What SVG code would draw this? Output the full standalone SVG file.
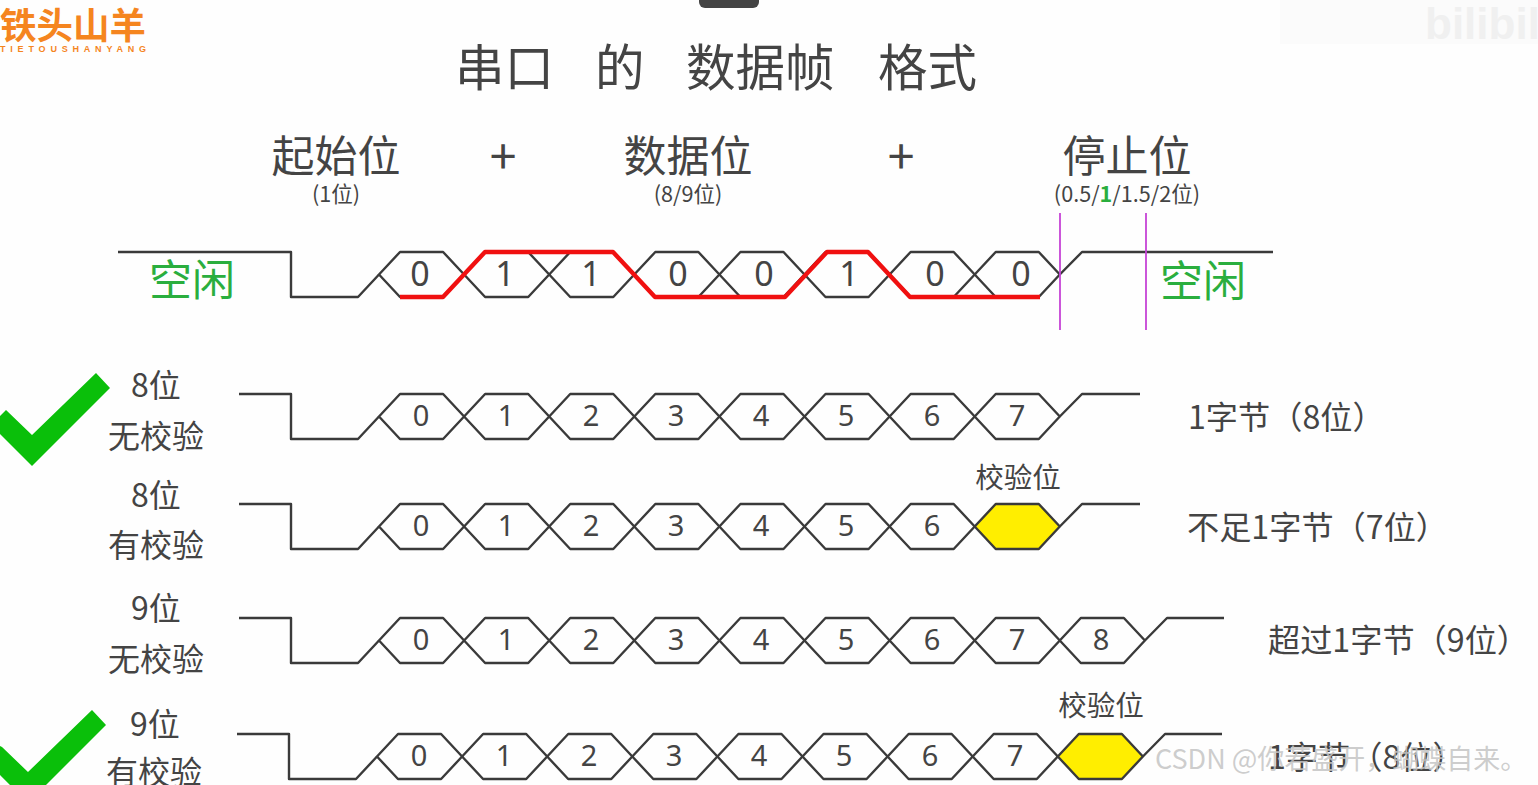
<svg xmlns="http://www.w3.org/2000/svg" width="1538" height="785" viewBox="0 0 1538 785">
<style>
text{font-family:"Noto Sans CJK SC","Noto Sans",sans-serif;fill:#444}
.m{text-anchor:middle}
.t{font-size:49.5px}
.h{font-size:43px}
.s{font-size:21.6px}
.g{fill:#2aae3e;font-size:43px}
.l{font-size:32px}
.r{font-size:32.2px}
.p{font-size:28.5px}
.d{font-size:29px;font-family:"Noto Sans",sans-serif;text-anchor:middle}
.dt{font-size:34px;font-family:"Noto Sans",sans-serif;text-anchor:middle}
.w{fill:none;stroke:#3a3a3a;stroke-width:2.4;stroke-linejoin:round}
.c{fill:#0abf0a}
</style>
<defs>
<polygon id="hx" class="w" points="0,0 21,-22.5 64.1,-22.5 85.1,0 64.1,22.5 21,22.5"/>
<polygon id="hy" points="0,0 21,-22.5 64.1,-22.5 85.1,0 64.1,22.5 21,22.5" fill="#ffee00" stroke="#3a3a3a" stroke-width="2.4" stroke-linejoin="round"/>
</defs>
<rect width="1538" height="785" fill="#fefefe"/>
<path d="M699,0H759V2a6,6 0 0 1-6,6H705a6,6 0 0 1-6-6Z" fill="#444"/>
<g id="bili-mark">
<rect x="1280" y="0" width="258" height="44" fill="#fbfbfb"/>
<text x="1425" y="39" font-size="44" style="font-family:'Liberation Sans',sans-serif;font-weight:bold;fill:#f0f0f0">bilibili</text>
</g>
<g id="logo">
<text x="0" y="39" font-size="36.5" font-weight="700" style="fill:#f5851f">铁头山羊</text>
<text x="0" y="52" font-size="9" font-weight="700" textLength="146" style="fill:#f5851f;font-family:'Liberation Sans',sans-serif">TIETOUSHANYANG</text>
</g>
<g id="title">
<text class="t" x="455" y="86">串口</text>
<text class="t" x="595" y="86">的</text>
<text class="t" x="686" y="86">数据帧</text>
<text class="t" x="878" y="86">格式</text>
</g>
<g id="heading-start">
<text class="h m" x="336" y="172">起始位</text>
<text class="s m" x="336" y="202">(1位)</text>
</g>
<text class="m" x="503" y="174" font-size="48">+</text>
<g id="heading-data">
<text class="h m" x="688" y="172">数据位</text>
<text class="s m" x="688" y="202">(8/9位)</text>
</g>
<text class="m" x="901" y="174" font-size="48">+</text>
<g id="heading-stop">
<text class="h m" x="1127" y="172">停止位</text>
<text class="s m" x="1127" y="202">(0.5/<tspan font-weight="700" style="fill:#2aae3e">1</tspan>/1.5/2位)</text>
</g>
<g id="frame-example">
<path class="w" d="M118,252H291V297H358L379,274.5"/>
<use href="#hx" x="379" y="274.5"/><use href="#hx" x="464.1" y="274.5"/><use href="#hx" x="549.2" y="274.5"/><use href="#hx" x="634.3" y="274.5"/><use href="#hx" x="719.4" y="274.5"/><use href="#hx" x="804.5" y="274.5"/><use href="#hx" x="889.6" y="274.5"/><use href="#hx" x="974.7" y="274.5"/>
<path class="w" d="M1059.8,274.5L1082,252H1273"/>
<path fill="none" stroke="#f01010" stroke-width="4.4" stroke-linejoin="round" d="M400,297H443L485,252H613L655,297H785L827,252H868L910,297H1040"/>
<text class="dt" x="420" y="286">0</text><text class="dt" x="505" y="286">1</text><text class="dt" x="591" y="286">1</text><text class="dt" x="678" y="286">0</text><text class="dt" x="764" y="286">0</text><text class="dt" x="849" y="286">1</text><text class="dt" x="935" y="286">0</text><text class="dt" x="1021" y="286">0</text>
<path d="M1060,213V330M1146,213V330" stroke="#c644d6" stroke-width="1.8" fill="none"/>
<text class="g m" x="192" y="296">空闲</text>
<text class="g m" x="1203" y="297">空闲</text>
</g>
<g id="row-8-none">
<polygon class="c" points="0,416 6,410 32,435 96,373 110,388 32,466 0,434"/>
<text class="l m" x="156" y="397">8位</text>
<text class="l m" x="156" y="448">无校验</text>
<path class="w" d="M239,394H291V439H358L379,416.5"/>
<use href="#hx" x="379" y="416.5"/><use href="#hx" x="464.1" y="416.5"/><use href="#hx" x="549.2" y="416.5"/><use href="#hx" x="634.3" y="416.5"/><use href="#hx" x="719.4" y="416.5"/><use href="#hx" x="804.5" y="416.5"/><use href="#hx" x="889.6" y="416.5"/><use href="#hx" x="974.7" y="416.5"/>
<path class="w" d="M1059.8,416.5L1082,394H1140"/>
<text class="d" x="421" y="426">0</text><text class="d" x="506" y="426">1</text><text class="d" x="591" y="426">2</text><text class="d" x="676" y="426">3</text><text class="d" x="761" y="426">4</text><text class="d" x="846" y="426">5</text><text class="d" x="932" y="426">6</text><text class="d" x="1017" y="426">7</text>
<text class="r" x="1188" y="429">1字节（8位）</text>
</g>
<g id="row-8-parity">
<text class="l m" x="156" y="507">8位</text>
<text class="l m" x="156" y="557">有校验</text>
<path class="w" d="M239,504H291V549H358L379,526.5"/>
<use href="#hx" x="379" y="526.5"/><use href="#hx" x="464.1" y="526.5"/><use href="#hx" x="549.2" y="526.5"/><use href="#hx" x="634.3" y="526.5"/><use href="#hx" x="719.4" y="526.5"/><use href="#hx" x="804.5" y="526.5"/><use href="#hx" x="889.6" y="526.5"/><use href="#hy" x="974.7" y="526.5"/>
<path class="w" d="M1059.8,526.5L1082,504H1140"/>
<text class="d" x="421" y="536">0</text><text class="d" x="506" y="536">1</text><text class="d" x="591" y="536">2</text><text class="d" x="676" y="536">3</text><text class="d" x="761" y="536">4</text><text class="d" x="846" y="536">5</text><text class="d" x="932" y="536">6</text>
<text class="p m" x="1018" y="488">校验位</text>
<text class="r" x="1187" y="539">不足1字节（7位）</text>
</g>
<g id="row-9-none">
<text class="l m" x="156" y="620">9位</text>
<text class="l m" x="156" y="671">无校验</text>
<path class="w" d="M239,618H291V663H358L379,640.5"/>
<use href="#hx" x="379" y="640.5"/><use href="#hx" x="464.1" y="640.5"/><use href="#hx" x="549.2" y="640.5"/><use href="#hx" x="634.3" y="640.5"/><use href="#hx" x="719.4" y="640.5"/><use href="#hx" x="804.5" y="640.5"/><use href="#hx" x="889.6" y="640.5"/><use href="#hx" x="974.7" y="640.5"/><use href="#hx" x="1059.8" y="640.5"/>
<path class="w" d="M1144.9,640.5L1167,618H1224"/>
<text class="d" x="421" y="650">0</text><text class="d" x="506" y="650">1</text><text class="d" x="591" y="650">2</text><text class="d" x="676" y="650">3</text><text class="d" x="761" y="650">4</text><text class="d" x="846" y="650">5</text><text class="d" x="932" y="650">6</text><text class="d" x="1017" y="650">7</text><text class="d" x="1101" y="650">8</text>
<text class="r" x="1268" y="652">超过1字节（9位）</text>
</g>
<g id="row-9-parity">
<polygon class="c" points="0,746 2,747 28,772 92,710 106,725 28,803 0,775"/>
<text class="l m" x="155" y="736">9位</text>
<text class="l m" x="154" y="784">有校验</text>
<path class="w" d="M237,734H289V779H356L377,756.5"/>
<use href="#hx" x="377" y="756.5"/><use href="#hx" x="462.1" y="756.5"/><use href="#hx" x="547.2" y="756.5"/><use href="#hx" x="632.3" y="756.5"/><use href="#hx" x="717.4" y="756.5"/><use href="#hx" x="802.5" y="756.5"/><use href="#hx" x="887.6" y="756.5"/><use href="#hx" x="972.7" y="756.5"/><use href="#hy" x="1057.8" y="756.5"/>
<path class="w" d="M1142.9,756.5L1165,734H1222"/>
<text class="d" x="419" y="766">0</text><text class="d" x="504" y="766">1</text><text class="d" x="589" y="766">2</text><text class="d" x="674" y="766">3</text><text class="d" x="759" y="766">4</text><text class="d" x="844" y="766">5</text><text class="d" x="930" y="766">6</text><text class="d" x="1015" y="766">7</text>
<text class="p m" x="1101" y="716">校验位</text>
<text class="r" x="1268" y="769">1字节（8位）</text>
</g>
<text x="1155" y="769" font-size="27" style="fill:#c4c4c4;fill-opacity:.85">CSDN @你若盛开，蝴蝶自来。</text>
</svg>
